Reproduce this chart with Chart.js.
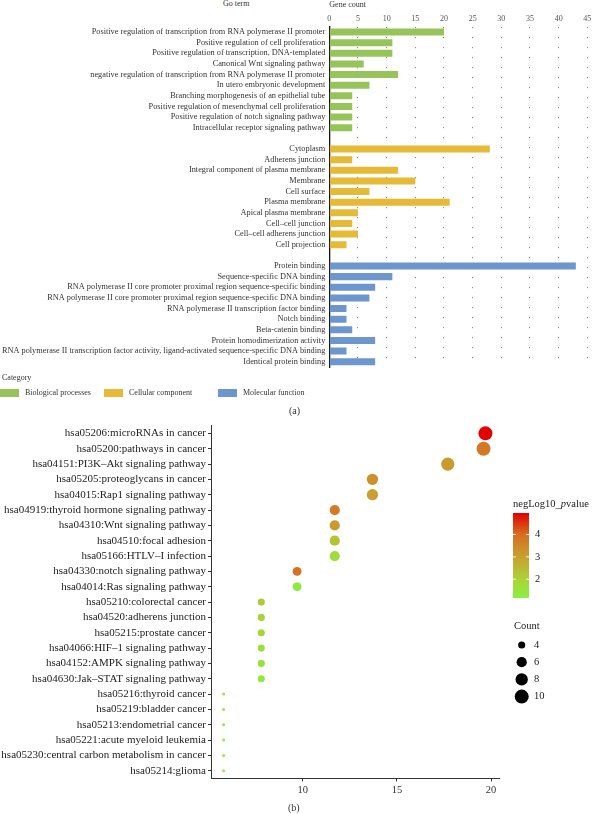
<!DOCTYPE html>
<html>
<head>
<meta charset="utf-8">
<script src="https://cdn.jsdelivr.net/npm/chart.js@4.4.0/dist/chart.umd.min.js"></script>
<style>
  html, body { margin: 0; padding: 0; background: #fff; }
  body { width: 595px; height: 814px; position: relative; overflow: hidden;
         font-family: "Liberation Serif", "DejaVu Serif", serif; color: #333; }
  .abs { position: absolute; white-space: nowrap; }
  #goChart { position: absolute; left: 0; top: 0; }
  #keggChart { position: absolute; left: 0; top: 415px; }
  .legendItem { position: absolute; top: 0; display: flex; align-items: center; font-size: 8px; color: #333; }
  .legendItem span.box { display: inline-block; width: 19px; height: 8px; margin-right: 6px; }
  .caption { font-size: 10px; color: #333; }
</style>
</head>
<body>
<div class="abs" style="left:223px; top:-1px; font-size:8px; color:#333;">Go term</div>
<canvas id="goChart" width="595" height="376"></canvas>
<div class="abs" style="left:2px; top:373px; font-size:8px; color:#333;">Category</div>
<div id="goLegend" class="abs" style="left:0; top:388px; width:595px; height:12px;"></div>
<div class="abs caption" style="left:289px; top:405px;">(a)</div>
<canvas id="keggChart" width="595" height="385"></canvas>
<div class="abs caption" style="left:288px; top:802px;">(b)</div>
<script>
// ---- panel (a): GO terms ----
const bpTerms = [
  'Positive regulation of transcription from RNA polymerase II promoter',
  'Positive regulation of cell proliferation',
  'Positive regulation of transcription, DNA-templated',
  'Canonical Wnt signaling pathway',
  'negative regulation of transcription from RNA polymerase II promoter',
  'In utero embryonic development',
  'Branching morphogenesis of an epithelial tube',
  'Positive regulation of mesenchymal cell proliferation',
  'Positive regulation of notch signaling pathway',
  'Intracellular receptor signaling pathway'
];
const bpCounts = [20, 11, 11, 6, 12, 7, 4, 4, 4, 4];

const ccTerms = [
  'Cytoplasm', 'Adherens junction', 'Integral component of plasma membrane', 'Membrane',
  'Cell surface', 'Plasma membrane', 'Apical plasma membrane', 'Cell–cell junction',
  'Cell–cell adherens junction', 'Cell projection'
];
const ccCounts = [28, 4, 12, 15, 7, 21, 5, 4, 5, 3];

const mfTerms = [
  'Protein binding',
  'Sequence-specific DNA binding',
  'RNA polymerase II core promoter proximal region sequence-specific binding',
  'RNA polymerase II core promoter proximal region sequence-specific DNA binding',
  'RNA polymerase II transcription factor binding',
  'Notch binding',
  'Beta-catenin binding',
  'Protein homodimerization activity',
  'RNA polymerase II transcription factor activity, ligand-activated sequence-specific DNA binding',
  'Identical protein binding'
];
const mfCounts = [43, 11, 8, 7, 3, 3, 4, 8, 3, 8];

const categoryNames = ['Biological processes', 'Cellular component', 'Molecular function'];
const categoryColors = ['#96C45A', '#E6B936', '#6E96CE'];
const geneCountTicks = [0, 5, 10, 15, 20, 25, 30, 35, 40, 45];

// ---- panel (b): KEGG pathways ----
const keggTerms = [
  'hsa05206:microRNAs in cancer',
  'hsa05200:pathways in cancer',
  'hsa04151:PI3K–Akt signaling pathway',
  'hsa05205:proteoglycans in cancer',
  'hsa04015:Rap1 signaling pathway',
  'hsa04919:thyroid hormone signaling pathway',
  'hsa04310:Wnt signaling pathway',
  'hsa04510:focal adhesion',
  'hsa05166:HTLV–I infection',
  'hsa04330:notch signaling pathway',
  'hsa04014:Ras signaling pathway',
  'hsa05210:colorectal cancer',
  'hsa04520:adherens junction',
  'hsa05215:prostate cancer',
  'hsa04066:HIF–1 signaling pathway',
  'hsa04152:AMPK signaling pathway',
  'hsa04630:Jak–STAT signaling pathway',
  'hsa05216:thyroid cancer',
  'hsa05219:bladder cancer',
  'hsa05213:endometrial cancer',
  'hsa05221:acute myeloid leukemia',
  'hsa05230:central carbon metabolism in cancer',
  'hsa05214:glioma'
];
const keggRatio = [19.7, 19.6, 17.7, 13.7, 13.7, 11.7, 11.7, 11.7, 11.7, 9.7, 9.7,
                   7.8, 7.8, 7.8, 7.8, 7.8, 7.8, 5.8, 5.8, 5.8, 5.8, 5.8, 5.8];
const keggCount = [10, 10, 9, 7, 7, 6, 6, 6, 6, 5, 5, 4, 4, 4, 4, 4, 4, 3, 3, 3, 3, 3, 3];
const keggNegLog10P = [4.96, 3.8, 3.1, 3.3, 3.0, 3.7, 3.1, 2.3, 1.7, 3.9, 1.4,
                       2.2, 2.0, 1.9, 1.7, 1.6, 1.5, 1.4, 1.35, 1.3, 1.3, 1.25, 1.2];
const ratioTicks = [10, 15, 20];
const pvalueTicks = [2, 3, 4];
const countTicks = [4, 6, 8, 10];

// colour / size scales
const colorLimits = [1.16, 4.96];
const colorStops = [
  [1.16, [136, 242, 64]],
  [2.0, [172, 210, 56]],
  [3.0, [200, 160, 48]],
  [4.0, [214, 110, 34]],
  [4.96, [226, 0, 0]]
];
const sizeLimits = [3, 10];
const radiusRange = [1.5, 7];

const SERIF = '"Liberation Serif", "DejaVu Serif", serif';
Chart.defaults.font.family = SERIF;

function rgbStr(c) { return 'rgb(' + c.join(',') + ')'; }

function pvalueColor(v) {
  const s = colorStops;
  if (v <= s[0][0]) return rgbStr(s[0][1]);
  for (let i = 1; i < s.length; i++) {
    if (v <= s[i][0]) {
      const t = (v - s[i - 1][0]) / (s[i][0] - s[i - 1][0]);
      return rgbStr(s[i - 1][1].map((c, k) => Math.round(c + t * (s[i][1][k] - c))));
    }
  }
  return rgbStr(s[s.length - 1][1]);
}

function countRadius(c) {
  const t = Math.sqrt((c - sizeLimits[0]) / (sizeLimits[1] - sizeLimits[0]));
  return radiusRange[0] + t * (radiusRange[1] - radiusRange[0]);
}

// build the bar rows, one blank row between categories
const goLabels = [], goValues = [], goColors = [];
[[bpTerms, bpCounts], [ccTerms, ccCounts], [mfTerms, mfCounts]].forEach((grp, gi) => {
  if (gi > 0) { goLabels.push(''); goValues.push(null); goColors.push('rgba(0,0,0,0)'); }
  grp[0].forEach((t, i) => {
    goLabels.push(t);
    goValues.push(grp[1][i]);
    goColors.push(categoryColors[gi]);
  });
});

new Chart(document.getElementById('goChart'), {
  type: 'bar',
  data: {
    labels: goLabels,
    datasets: [{ data: goValues, backgroundColor: goColors, barPercentage: 0.66, categoryPercentage: 1 }]
  },
  options: {
    indexAxis: 'y',
    responsive: false,
    animation: false,
    layout: { padding: { left: 0, right: 7.7, top: 0, bottom: 0 } },
    plugins: { legend: { display: false }, tooltip: { enabled: false } },
    scales: {
      x: {
        position: 'top', min: 0, max: 45,
        afterBuildTicks: s => { s.ticks = geneCountTicks.map(v => ({ value: v })); },
        afterFit: s => { s.height = 26.7; },
        grid: { color: c => (c.tick && c.tick.value === 0) ? 'rgba(0,0,0,0)' : '#8a8a8a', drawTicks: false, lineWidth: 1 },
        border: { display: false, dash: [1.2, 8.8] },
        ticks: { padding: 2.5, color: '#555', font: { size: 8 } },
        title: { display: true, text: 'Gene count', align: 'start', padding: { top: 0, bottom: 0 },
                 color: '#333', font: { size: 8 } }
      },
      y: {
        afterFit: s => { s.width = 329.3; },
        grid: { display: false, drawTicks: false },
        border: { display: true, color: '#111', width: 1.3 },
        ticks: { autoSkip: false, padding: 4, color: '#333', font: { size: 8.3 } }
      }
    }
  }
});

// category legend
const legendLefts = [0, 104, 218];
document.getElementById('goLegend').innerHTML = categoryNames.map((n, i) =>
  `<span class="legendItem" style="left:${legendLefts[i]}px"><span class="box" style="background:${categoryColors[i]}"></span>${n}</span>`
).join('');

// colour bar and size legend for the bubble chart
const keggLegends = {
  id: 'keggLegends',
  afterDraw(chart) {
    const ctx = chart.ctx;
    const left = chart.chartArea.right + 14;
    ctx.save();
    ctx.textBaseline = 'middle';
    ctx.textAlign = 'left';
    ctx.fillStyle = '#222';

    // title with italic p
    let tx = left;
    const parts = [['negLog10_', ''], ['p', 'italic '], ['value', '']];
    parts.forEach(([txt, st]) => {
      ctx.font = st + '10.5px ' + SERIF;
      ctx.fillText(txt, tx, 89);
      tx += ctx.measureText(txt).width;
    });

    const top = 98, bottom = 183, w = 16;
    const span = colorLimits[1] - colorLimits[0];
    const yOf = v => bottom - (v - colorLimits[0]) / span * (bottom - top);
    const g = ctx.createLinearGradient(0, bottom, 0, top);
    colorStops.forEach(([v, c]) => g.addColorStop((v - colorLimits[0]) / span, rgbStr(c)));
    ctx.fillStyle = g;
    ctx.fillRect(left, top, w, bottom - top);

    ctx.font = '10.5px ' + SERIF;
    pvalueTicks.forEach(v => {
      const y = yOf(v);
      ctx.strokeStyle = 'rgba(255,255,255,0.85)';
      ctx.lineWidth = 1;
      ctx.beginPath();
      ctx.moveTo(left, y); ctx.lineTo(left + 3, y);
      ctx.moveTo(left + w - 3, y); ctx.lineTo(left + w, y);
      ctx.stroke();
      ctx.fillStyle = '#222';
      ctx.fillText(String(v), left + 22, y);
    });

    // size legend
    ctx.fillStyle = '#222';
    ctx.fillText('Count', left + 1, 211);
    countTicks.forEach((c, i) => {
      const y = 230 + i * 17.2;
      ctx.fillStyle = '#000';
      ctx.beginPath();
      ctx.arc(left + 8.7, y, countRadius(c), 0, Math.PI * 2);
      ctx.fill();
      ctx.fillStyle = '#222';
      ctx.fillText(String(c), left + 21, y);
    });
    ctx.restore();
  }
};

new Chart(document.getElementById('keggChart'), {
  type: 'bubble',
  data: {
    datasets: [{
      data: keggTerms.map((t, i) => ({ x: keggRatio[i], y: t, r: countRadius(keggCount[i]) })),
      backgroundColor: keggNegLog10P.map(pvalueColor),
      borderWidth: 0,
      hoverRadius: 0
    }]
  },
  options: {
    responsive: false,
    animation: false,
    layout: { padding: { left: 0, right: 96, top: 10.7, bottom: 0 } },
    plugins: { legend: { display: false }, tooltip: { enabled: false } },
    scales: {
      x: {
        type: 'linear', min: 5.13, max: 20.42,
        afterBuildTicks: s => { s.ticks = ratioTicks.map(v => ({ value: v })); },
        afterFit: s => { s.height = 21.6; },
        grid: { drawOnChartArea: false, drawTicks: true, tickLength: 3, color: '#333' },
        border: { color: '#333', width: 1 },
        ticks: { padding: 3, color: '#333', font: { size: 10.5 } }
      },
      y: {
        type: 'category', labels: keggTerms, offset: true,
        afterFit: s => { s.width = 211; },
        grid: { drawOnChartArea: false, drawTicks: true, tickLength: 3, color: '#333', offset: false },
        border: { color: '#333', width: 1 },
        ticks: { autoSkip: false, padding: 2, color: '#222', font: { size: 11 } }
      }
    }
  },
  plugins: [keggLegends]
});
</script>
</body>
</html>
